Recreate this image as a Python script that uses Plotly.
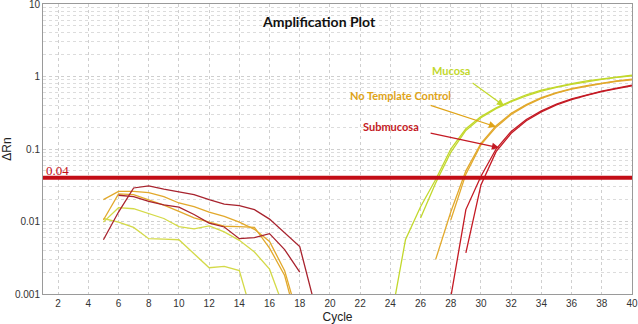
import numpy as np
import plotly.graph_objects as go

# ---------------- data ----------------
threshold = 0.04
x_ticks = list(range(2, 41, 2))
y_ticks = [0.001, 0.01, 0.1, 1, 10]
y_tick_labels = ["0.001", "0.01", "0.1", "1", "10"]

# background (noise) region
noise_r1_cycles = list(range(5, 20))
noise_r1_values = [0.0056, 0.0135, 0.029, 0.031, 0.028, 0.0255, 0.0235, 0.020, 0.0174, 0.0166, 0.0146, 0.0108, 0.0069, 0.0045, 0.0007]
noise_r2_cycles = list(range(6, 19))
noise_r2_values = [0.023, 0.022, 0.019, 0.017, 0.0158, 0.0125, 0.0095, 0.0084, 0.0058, 0.006, 0.0068, 0.0041, 0.002]
noise_o1_cycles = list(range(5, 19))
noise_o1_values = [0.020, 0.026, 0.026, 0.025, 0.022, 0.018, 0.016, 0.0135, 0.0118, 0.0098, 0.0078, 0.0053, 0.0021, 0.0004]
noise_o2_cycles = list(range(5, 19))
noise_o2_values = [0.0105, 0.024, 0.0235, 0.020, 0.0168, 0.0138, 0.0112, 0.0098, 0.0086, 0.0085, 0.0083, 0.0043, 0.0018, 0.0003]
noise_y1_cycles = list(range(5, 18))
noise_y1_values = [0.0098, 0.0155, 0.015, 0.0128, 0.011, 0.0085, 0.0079, 0.0087, 0.0072, 0.0055, 0.0038, 0.0022, 0.0006]
noise_y2_cycles = list(range(5, 16))
noise_y2_values = [0.011, 0.0098, 0.0083, 0.0058, 0.0057, 0.0056, 0.0036, 0.0023, 0.0024, 0.0021, 0.0004]

# amplification curves
mucosa1_cycles = list(range(24, 41))
mucosa1_values = [0.0004, 0.0056, 0.016, 0.038, 0.10, 0.19, 0.28, 0.37, 0.46, 0.56, 0.65, 0.73, 0.80, 0.87, 0.93, 0.99, 1.04]
mucosa2_cycles = list(range(26, 41))
mucosa2_values = [0.0112, 0.034, 0.09, 0.18, 0.27, 0.36, 0.45, 0.54, 0.63, 0.71, 0.78, 0.85, 0.91, 0.97, 1.02]
ntc1_cycles = list(range(27, 41))
ntc1_values = [0.003, 0.0135, 0.05, 0.12, 0.21, 0.31, 0.41, 0.51, 0.60, 0.68, 0.75, 0.81, 0.87, 0.92]
ntc2_cycles = list(range(28, 41))
ntc2_values = [0.0105, 0.045, 0.115, 0.20, 0.30, 0.40, 0.50, 0.59, 0.67, 0.74, 0.80, 0.86, 0.90]
sub1_cycles = list(range(28, 41))
sub1_values = [0.0009, 0.0146, 0.042, 0.10, 0.175, 0.255, 0.335, 0.415, 0.49, 0.56, 0.63, 0.69, 0.76]
sub2_cycles = list(range(29, 41))
sub2_values = [0.0037, 0.032, 0.092, 0.165, 0.245, 0.325, 0.405, 0.48, 0.55, 0.62, 0.68, 0.745]

# ---------------- styles ----------------
C_RED_DARK = "#a8232e"
C_RED = "#c41a24"
C_ORANGE = "#e2a92c"
C_YELLOW = "#d4da48"
C_GREEN = "#c2d82c"
C_THRESH = "#c30d16"

fig = go.Figure()

def add(xs, ys, color, width=1.3):
    fig.add_trace(go.Scatter(x=xs, y=ys, mode="lines",
                             line=dict(color=color, width=width),
                             showlegend=False, hoverinfo="skip"))

add(noise_y2_cycles, noise_y2_values, C_YELLOW)
add(noise_y1_cycles, noise_y1_values, C_YELLOW)
add(noise_o2_cycles, noise_o2_values, C_ORANGE)
add(noise_o1_cycles, noise_o1_values, C_ORANGE)
add(noise_r2_cycles, noise_r2_values, C_RED_DARK)
add(noise_r1_cycles, noise_r1_values, C_RED_DARK)

add(mucosa1_cycles, mucosa1_values, C_GREEN)
add(mucosa2_cycles, mucosa2_values, C_GREEN)
add(ntc1_cycles, ntc1_values, C_ORANGE)
add(ntc2_cycles, ntc2_values, C_ORANGE)
add(sub1_cycles, sub1_values, C_RED)
add(sub2_cycles, sub2_values, C_RED)

# threshold line
fig.add_trace(go.Scatter(x=[1, 40], y=[threshold, threshold], mode="lines",
                         line=dict(color=C_THRESH, width=4),
                         showlegend=False, hoverinfo="skip"))

minor_y = [k * 10.0 ** d for d in range(-3, 1) for k in range(2, 10)]

grid_col = "#cfcfcf"
fig.update_xaxes(range=[1, 40], tickvals=x_ticks, ticktext=[str(v) for v in x_ticks],
                 showgrid=True, gridcolor=grid_col, griddash="dot", gridwidth=1,
                 showline=True, linecolor="#9a9a9a", linewidth=1, mirror=True,
                 zeroline=False, ticks="", ticklabeloverflow="allow", automargin=False,
                 tickfont=dict(family="Liberation Sans, Arial", size=10, color="#333333"),
                 title=dict(text="Cycle", font=dict(family="Liberation Sans, Arial", size=12, color="#222222"),
                            standoff=4))
fig.update_yaxes(type="log", range=[-3, 1], tickvals=y_ticks, ticktext=y_tick_labels,
                 showgrid=True, gridcolor=grid_col, griddash="dot", gridwidth=1,
                 minor=dict(tickmode="array", tickvals=minor_y, showgrid=True,
                            gridcolor="#dcdcdc", griddash="dot", gridwidth=1, ticks=""),
                 showline=True, linecolor="#9a9a9a", linewidth=1, mirror=True,
                 zeroline=False, ticks="", ticklabeloverflow="allow", automargin=False,
                 tickfont=dict(family="Liberation Sans, Arial", size=10, color="#333333"),
                 title=dict(text="ΔRn", font=dict(family="Liberation Sans, Arial", size=12, color="#222222"),
                            standoff=6))

ann_font = "Lato, Liberation Sans, Arial"
annotations = [
    dict(x=19.3, y=0.752, text="<b>Amplification Plot</b>", showarrow=False,
         font=dict(family=ann_font, size=14, color="#111111")),
    dict(x=1.05, y=np.log10(threshold), text="0.04", showarrow=False, xanchor="left", yanchor="bottom",
         yshift=-2, font=dict(family="Liberation Serif, Times New Roman", size=13, color=C_THRESH)),
    dict(x=28.0, y=0.077, text="<b>Mucosa</b>", showarrow=False,
         font=dict(family=ann_font, size=11, color=C_GREEN)),
    dict(x=24.64, y=-0.267, text="<b>No Template Control</b>", showarrow=False,
         font=dict(family=ann_font, size=11, color="#e0a418")),
    dict(x=24.05, y=-0.694, text="<b>Submucosa</b>", showarrow=False,
         font=dict(family=ann_font, size=11, color=C_RED)),
    dict(x=31.53, y=-0.405, ax=-33, ay=-24, text="", showarrow=True, arrowhead=2,
         arrowsize=1.2, arrowwidth=1.2, arrowcolor=C_GREEN),
    dict(x=31.0, y=-0.694, ax=-67, ay=-22, text="", showarrow=True, arrowhead=2,
         arrowsize=1.2, arrowwidth=1.2, arrowcolor="#e0a418"),
    dict(x=31.2, y=-0.983, ax=-70, ay=-15, text="", showarrow=True, arrowhead=2,
         arrowsize=1.2, arrowwidth=1.2, arrowcolor=C_RED),
]
fig.update_layout(annotations=annotations,
                  width=638, height=324,
                  margin=dict(l=43, r=6, t=4, b=30),
                  plot_bgcolor="white", paper_bgcolor="white")

fig.write_html("out.html", config={"displayModeBar": False},
               post_script="document.body.style.margin='0px';document.body.style.overflow='hidden';")
